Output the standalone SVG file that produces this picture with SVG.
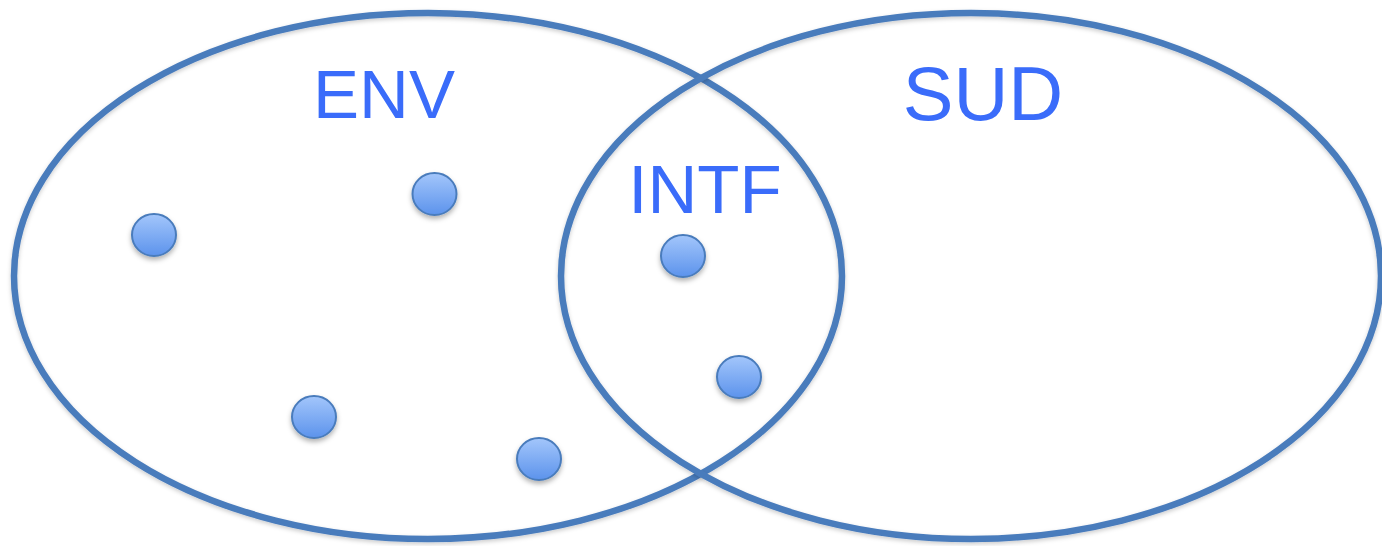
<svg xmlns="http://www.w3.org/2000/svg" width="1382" height="546" viewBox="0 0 1382 546">
<style>
.set{fill:none;stroke:#4a7cbc;stroke-width:6.5}
.lbl{font-family:"Liberation Sans",Arial,sans-serif;fill:#3a6cfa}
.dot{fill:url(#g);stroke:#4a7cbc;stroke-width:2;filter:url(#sh)}
</style>
<defs>
<linearGradient id="g" x1="0" y1="0" x2="0" y2="1">
<stop offset="0" stop-color="#a3c6fb"/>
<stop offset="1" stop-color="#5c93ec"/>
</linearGradient>
<filter id="sh" x="-50%" y="-50%" width="200%" height="200%">
<feDropShadow dx="0" dy="3" stdDeviation="2.5" flood-color="#000" flood-opacity="0.3"/>
</filter>
<filter id="sh2" x="-5%" y="-5%" width="110%" height="110%">
<feDropShadow dx="0" dy="2" stdDeviation="2" flood-color="#000" flood-opacity="0.2"/>
</filter>
</defs>
<rect width="1382" height="546" fill="#fff"/>
<g id="env">
<ellipse class="set" cx="428" cy="276" rx="414" ry="263" filter="url(#sh2)"/>
<text class="lbl" x="384" y="118" font-size="69" text-anchor="middle">ENV</text>
</g>
<g id="sud">
<ellipse class="set" cx="971" cy="276" rx="410" ry="263" filter="url(#sh2)"/>
<text class="lbl" x="983" y="120" font-size="76" text-anchor="middle">SUD</text>
</g>
<g id="intf">
<text class="lbl" x="705" y="213" font-size="69" text-anchor="middle">INTF</text>
</g>
<g id="dots">
<ellipse id="d1" class="dot" cx="154" cy="235" rx="22" ry="21"/>
<ellipse id="d2" class="dot" cx="434.5" cy="194" rx="22" ry="21"/>
<ellipse id="d3" class="dot" cx="683" cy="256" rx="22" ry="21"/>
<ellipse id="d4" class="dot" cx="739" cy="377" rx="22" ry="21"/>
<ellipse id="d5" class="dot" cx="314" cy="417" rx="22" ry="21"/>
<ellipse id="d6" class="dot" cx="539" cy="459" rx="22" ry="21"/>
</g>
<g id="connectors"/>
</svg>
